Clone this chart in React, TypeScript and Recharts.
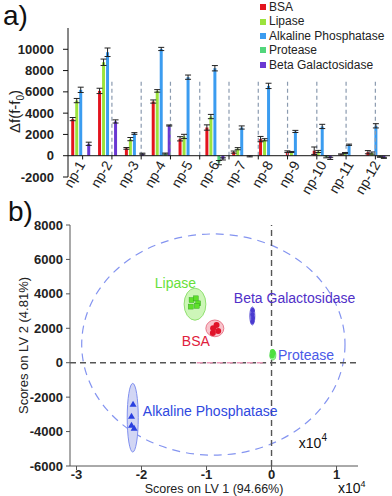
import React from 'react'
import {
  BarChart,
  Bar,
  XAxis,
  YAxis,
  ErrorBar,
  ReferenceLine,
  ReferenceArea,
  Legend,
  ScatterChart,
  Scatter
} from 'recharts'

const FONT = '"Liberation Sans", Arial, sans-serif'

// panel a
const categories = ['np-1', 'np-2', 'np-3', 'np-4', 'np-5', 'np-6', 'np-7', 'np-8', 'np-9', 'np-10', 'np-11', 'np-12']
const bsa = [3440, 6090, 690, 5090, 1590, 2650, 340, 1560, 375, 470, 120, 330]
const lipase = [5180, 8780, 1560, 6090, 1810, 3680, 660, 1500, 350, 400, 250, 250]
const alkPhos = [6190, 9720, 2090, 10030, 7380, 8220, 2650, 6560, 2280, 2750, 1030, 2810]
const protease = [0, 40, 0, 200, 0, -650, 0, 0, 0, -100, 0, -100]
const betaGal = [1120, 3220, 190, 2840, 0, -300, -60, 0, 0, -250, 0, -200]
const bsaErr = [150, 250, 80, 150, 200, 250, 100, 250, 80, 350, 50, 150]
const lipaseErr = [200, 300, 150, 120, 200, 200, 100, 100, 50, 100, 50, 100]
const alkPhosErr = [250, 400, 80, 150, 200, 250, 150, 250, 100, 200, 60, 200]
const proteaseErr = [0, 0, 0, 50, 0, 200, 0, 0, 0, 100, 0, 50]
const betaGalErr = [150, 150, 50, 50, 0, 100, 50, 0, 0, 100, 0, 50]
const barTicks = [-2000, 0, 2000, 4000, 6000, 8000, 10000]

const series = [
  { key: 'bsa', name: 'BSA', color: '#e3141e' },
  { key: 'lipase', name: 'Lipase', color: '#9be33c' },
  { key: 'alk', name: 'Alkaline Phosphatase', color: '#3b9cf0' },
  { key: 'prot', name: 'Protease', color: '#52d67c' },
  { key: 'beta', name: 'Beta Galactosidase', color: '#6a38d2' }
]

const barData = categories.map((cat, i) => ({
  cat,
  bsa: bsa[i], bsaErr: bsaErr[i],
  lipase: lipase[i], lipaseErr: lipaseErr[i],
  alk: alkPhos[i], alkErr: alkPhosErr[i],
  prot: protease[i], protErr: proteaseErr[i],
  beta: betaGal[i], betaErr: betaGalErr[i]
}))

const separators = categories.slice(1).map((_, i) => i + 1.5)
const boundaries = categories.map((_, i) => i + 0.5).concat([categories.length + 0.5])

// panel b
const lipasePts = [
  { x: -12300, y: 3640 }, { x: -11290, y: 3450 }, { x: -11650, y: 3740 },
  { x: -12420, y: 3260 }, { x: -11500, y: 3300 }
]
const bsaPts = [{ x: -8980, y: 2000 }, { x: -8460, y: 2190 }, { x: -8210, y: 1840 }, { x: -9030, y: 1730 }]
const betaPts = [{ x: -2900, y: 3050 }, { x: -2950, y: 2800 }, { x: -2850, y: 2600 }, { x: -2950, y: 2400 }]
const proteasePts = [{ x: 100, y: 400 }, { x: 250, y: 550 }, { x: 150, y: 650 }]
const alkPts = [{ x: -21300, y: -2420 }, { x: -21540, y: -3110 }, { x: -21540, y: -3640 }, { x: -21140, y: -3810 }]

const ellipses = [
  { name: 'all', x1: -29200, x2: 11300, y1: -5370, y2: 7480 },
  { name: 'Lipase', x1: -13450, x2: -10100, y1: 2470, y2: 4330 },
  { name: 'BSA', x1: -10100, x2: -7340, y1: 1510, y2: 2480 },
  { name: 'Beta', x1: -3340, x2: -2570, y1: 2190, y2: 3240 },
  { name: 'Protease', x1: -260, x2: 660, y1: 160, y2: 740 },
  { name: 'Alk', x1: -22200, x2: -20500, y1: -5190, y2: -1200 }
]
const ellipseStyle: Record<string, any> = {
  all: { fill: 'none', stroke: '#8494f0', dash: '8 6' },
  Lipase: { fill: '#cdf6b8', stroke: '#90e070' },
  BSA: { fill: '#f8c4cc', stroke: '#e8788a' },
  Beta: { fill: '#8a86e6', stroke: '#6a60d8' },
  Protease: { fill: '#9af09a', stroke: '#6ee070' },
  Alk: { fill: '#d2d6f4', stroke: '#8090f0' }
}

const scoreLabels = [
  { x: -17950, y: 4630, name: 'Lipase', color: '#66e03a' },
  { x: -13800, y: 1260, name: 'BSA', color: '#e0203c' },
  { x: -5800, y: 3780, name: 'Beta Galactosidase', color: '#5030c8' },
  { x: 1000, y: 450, name: 'Protease', color: '#4a5ae8' },
  { x: -19800, y: -2800, name: 'Alkaline Phosphatase', color: '#2f48e0' },
  { x: 4200, y: -4650, name: 'x10', color: '#111', sup: '4' }
]
const xTicks = [-30000, -20000, -10000, 0, 10000]
const yTicks = [-6000, -4000, -2000, 0, 2000, 4000, 6000, 8000]

const NpTick = ({ x, y, payload }: any) => (
  <g transform={`translate(${x},${y - 23})`}>
    <text textAnchor="end" transform="rotate(-60)" fontSize={14} fill="#222" fontFamily={FONT} dy={5}>
      {payload.value}
    </text>
  </g>
)

const LegendBox = () => (
  <div style={{ fontFamily: FONT, fontSize: 12, color: '#222', lineHeight: '14.4px', whiteSpace: 'nowrap' }}>
    {series.map((s) => (
      <div key={s.key} style={{ display: 'flex', alignItems: 'center' }}>
        <span style={{ width: 6, height: 6, background: s.color, marginRight: 3, flexShrink: 0, display: 'inline-block' }} />
        {s.name}
      </div>
    ))}
  </div>
)

const ellipseShape = (name: string) => (props: any) => {
  const { x, y, width, height } = props
  const s = ellipseStyle[name]
  return (
    <ellipse
      cx={x + width / 2}
      cy={y + height / 2}
      rx={Math.abs(width) / 2}
      ry={Math.abs(height) / 2}
      fill={s.fill}
      stroke={s.stroke}
      strokeWidth={s.dash ? 1.2 : 1}
      strokeDasharray={s.dash}
    />
  )
}

const square = (color: string) => (p: any) => (
  <rect x={p.cx - 2.5} y={p.cy - 2.5} width={5} height={5} fill={color} stroke="#2a9a20" strokeWidth={0.4} />
)
const dot = (color: string, rx: number, ry: number) => (p: any) => (
  <ellipse cx={p.cx} cy={p.cy} rx={rx} ry={ry} fill={color} />
)
const triangle = (color: string) => (p: any) => (
  <path d={`M${p.cx},${p.cy - 3.5}L${p.cx + 3.5},${p.cy + 2.5}L${p.cx - 3.5},${p.cy + 2.5}Z`} fill={color} />
)
const textShape = (p: any) => (
  <text x={p.cx} y={p.cy} dy={5} fill={p.payload.color} fontSize={14} fontFamily={FONT}>
    {p.payload.name}
    {p.payload.sup ? <tspan dy={-7} fontSize={10}>{p.payload.sup}</tspan> : null}
  </text>
)

export default function App() {
  return (
    <div style={{ position: 'absolute', left: 0, top: 0, width: 392, height: 496, background: '#fff', fontFamily: FONT }}>
      <div style={{ position: 'absolute', left: 3, top: 0, fontSize: 28, lineHeight: '32px', color: '#111' }}>a)</div>
      <div style={{ position: 'absolute', left: 8, top: 196, fontSize: 28, lineHeight: '32px', color: '#111' }}>b)</div>
      <div style={{ position: 'absolute', left: 338, top: 480, fontSize: 14, lineHeight: '16px', color: '#111' }}>
        x10<sup style={{ fontSize: 9, lineHeight: '9px' }}>4</sup>
      </div>

      <div style={{ position: 'absolute', left: 0, top: 0 }}>
        <BarChart
          width={392}
          height={200}
          data={barData}
          margin={{ top: 28, right: 2, bottom: 0, left: 0 }}
          barCategoryGap="12%"
          barGap={1}
        >
          <XAxis dataKey="cat" axisLine={false} tickLine={false} height={23} interval={0} tick={<NpTick />} />
          <XAxis xAxisId="sep" type="number" domain={[0.5, 12.5]} allowDataOverflow hide />
          <YAxis
            width={68}
            domain={[-2000, 12000]}
            ticks={barTicks}
            allowDataOverflow
            axisLine={{ stroke: '#111' }}
            tickLine={{ stroke: '#111' }}
            tickSize={5}
            tickMargin={9}
            tick={{ fontSize: 13, fontWeight: 'bold', fill: '#222', fontFamily: FONT }}
            label={{
              content: ({ viewBox }: any) => (
                <text
                  transform={`translate(${viewBox.x + 20},${viewBox.y + viewBox.height / 2 + 9}) rotate(-90)`}
                  textAnchor="middle"
                  fontSize={15}
                  fill="#222"
                  fontFamily={FONT}
                >
                  Δf(f-f<tspan dy={4} fontSize={10}>0</tspan><tspan dy={-4}>)</tspan>
                </text>
              )
            }}
          />
          {separators.map((s) => (
            <ReferenceLine
              key={s}
              xAxisId="sep"
              segment={[{ x: s, y: 0 }, { x: s, y: 7000 }]}
              stroke="#8b9bb0"
              strokeDasharray="4 3"
              strokeWidth={1.2}
            />
          ))}
          {boundaries.map((s) => (
            <ReferenceLine key={'t' + s} xAxisId="sep" segment={[{ x: s, y: 0 }, { x: s, y: -350 }]} stroke="#111" />
          ))}
          <ReferenceLine y={0} stroke="#111" />
          <Legend
            layout="vertical"
            align="center"
            verticalAlign="middle"
            wrapperStyle={{ top: 0, left: 260, width: 130 }}
            content={<LegendBox />}
          />
          {series.map((s) => (
            <Bar key={s.key} dataKey={s.key} name={s.name} fill={s.color} isAnimationActive={false}>
              <ErrorBar dataKey={s.key + 'Err'} width={3} stroke="#222" strokeWidth={1} />
            </Bar>
          ))}
        </BarChart>
      </div>

      <div style={{ position: 'absolute', left: 0, top: 200 }}>
        <ScatterChart width={392} height={296} margin={{ top: 25, right: 34, bottom: 0, left: 0 }}>
          <XAxis
            type="number"
            dataKey="x"
            domain={[-31000, 13300]}
            allowDataOverflow
            ticks={xTicks}
            tickFormatter={(v: number) => String(v / 10000)}
            height={30}
            tickSize={4}
            tickMargin={0}
            axisLine={{ stroke: '#555' }}
            tickLine={{ stroke: '#555' }}
            tick={{ fontSize: 13, fontWeight: 'bold', fill: '#222', fontFamily: FONT }}
            label={{
              content: ({ viewBox }: any) => (
                <text
                  x={viewBox.x + viewBox.width / 2}
                  y={viewBox.y + 27}
                  textAnchor="middle"
                  fontSize={12.5}
                  fill="#222"
                  fontFamily={FONT}
                >
                  Scores on LV 1 (94.66%)
                </text>
              )
            }}
          />
          <XAxis
            xAxisId="top"
            orientation="top"
            type="number"
            domain={[-31000, 13300]}
            allowDataOverflow
            ticks={xTicks}
            height={0}
            mirror
            tickSize={4}
            tickFormatter={() => ''}
            axisLine={{ stroke: '#555' }}
            tickLine={{ stroke: '#555' }}
          />
          <YAxis
            type="number"
            dataKey="y"
            domain={[-6000, 8000]}
            allowDataOverflow
            ticks={yTicks}
            width={70}
            tickSize={4}
            tickMargin={3}
            axisLine={{ stroke: '#555' }}
            tickLine={{ stroke: '#555' }}
            tick={{ fontSize: 13, fontWeight: 'bold', fill: '#222', fontFamily: FONT }}
            label={{
              content: ({ viewBox }: any) => (
                <text
                  transform={`translate(${viewBox.x + 28},${viewBox.y + viewBox.height / 2}) rotate(-90)`}
                  textAnchor="middle"
                  fontSize={13}
                  fill="#222"
                  fontFamily={FONT}
                >
                  Scores on LV 2 (4.81%)
                </text>
              )
            }}
          />
          <YAxis
            yAxisId="right"
            orientation="right"
            type="number"
            domain={[-6000, 8000]}
            allowDataOverflow
            ticks={yTicks}
            width={0}
            mirror
            tickSize={4}
            tickFormatter={() => ''}
            axisLine={{ stroke: '#555' }}
            tickLine={{ stroke: '#555' }}
          />
          {ellipses.map((e) => (
            <ReferenceArea
              key={e.name}
              x1={e.x1}
              x2={e.x2}
              y1={e.y1}
              y2={e.y2}
              ifOverflow="visible"
              shape={ellipseShape(e.name)}
            />
          ))}
          <ReferenceLine y={0} stroke="#555" strokeDasharray="6 4" strokeWidth={1.4} />
          <ReferenceLine
            segment={[{ x: -11500, y: 0 }, { x: -700, y: 0 }]}
            stroke="#e898b8"
            strokeDasharray="6 4"
            strokeWidth={1.4}
          />
          <ReferenceLine x={0} stroke="#555" strokeDasharray="6 4" strokeWidth={1.4} />
          <Scatter data={lipasePts} shape={square('#5ee02a')} isAnimationActive={false} />
          <Scatter data={bsaPts} shape={dot('#e0142a', 3, 3)} isAnimationActive={false} />
          <Scatter data={betaPts} shape={dot('#4a3ad0', 2, 2.5)} isAnimationActive={false} />
          <Scatter data={proteasePts} shape={dot('#4ee040', 2.5, 2.5)} isAnimationActive={false} />
          <Scatter data={alkPts} shape={triangle('#2a40e0')} isAnimationActive={false} />
          <Scatter data={scoreLabels} shape={textShape} isAnimationActive={false} />
        </ScatterChart>
      </div>
    </div>
  )
}
